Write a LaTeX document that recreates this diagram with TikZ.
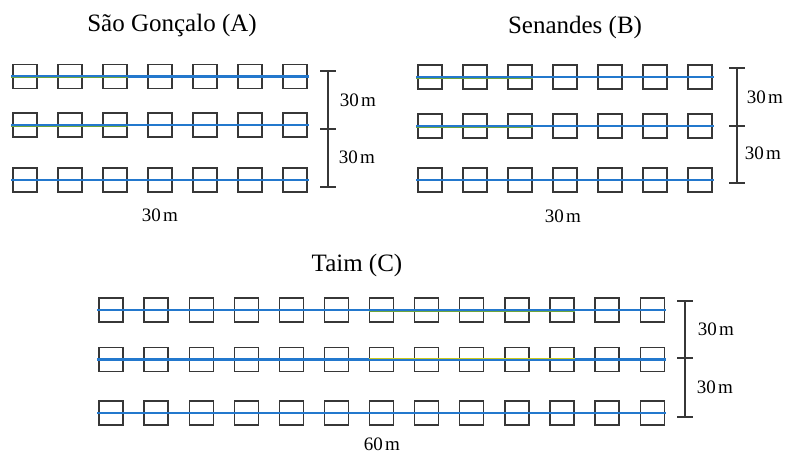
\documentclass[tikz,border=0pt]{standalone}
\usepackage{fontspec}
\setmainfont{Liberation Serif}
\definecolor{rowblue}{RGB}{35,120,205}
\definecolor{rowgreen}{RGB}{110,165,60}
\definecolor{rowyellow}{RGB}{200,200,30}
\definecolor{boxgray}{RGB}{55,55,55}
\tikzset{
  plot/.style={draw=boxgray, line width=1.3pt, minimum width=24pt, minimum height=24pt, inner sep=0pt},
  rowline/.style={draw=rowblue, line width=2.8pt},
  greenline/.style={draw=rowgreen, line width=0.9pt},
  yellowline/.style={draw=rowyellow, line width=0.9pt},
  bar/.style={draw=boxgray, line width=1.2pt},
  title/.style={font=\fontsize{25}{30}\selectfont, inner sep=0pt},
  dim/.style={font=\fontsize{19}{22}\selectfont, inner sep=0pt}
}
\newcommand{\mm}{30\hspace{0.12em}m}
\begin{document}
\begin{tikzpicture}[x=1pt,y=-1pt]
\useasboundingbox (0,0) rectangle (788,454);
% ---------- Panel A ----------
\node[title] (tA) at (172,25) {São Gonçalo (A)};
\foreach \r/\y in {1/76.5,2/125,3/180}{
  \foreach \c in {1,...,7}{
    \node[plot] (A-\r-\c) at ({25+45*(\c-1)},\y) {};
  }
}
\foreach \r in {1,2,3}{ \draw[rowline] ([xshift=-1pt]A-\r-1.west) -- ([xshift=1pt]A-\r-7.east); }
\foreach \r in {1,2}{ \draw[greenline] ([xshift=-1pt,yshift=-1.4pt]A-\r-1.west) -- ([yshift=-1.4pt]A-\r-3.east); }
\coordinate (At) at (328,71); \coordinate (Am) at (328,129); \coordinate (Ab) at (328,187);
\draw[bar] (At) -- (Ab);
\foreach \p in {At,Am,Ab}{ \draw[bar] ([xshift=-8pt]\p) -- ([xshift=8pt]\p); }
\node[dim] (A1) at (358,100) {\mm};
\node[dim] (A2) at (357,157) {\mm};
\node[dim] (A3) at (160,215) {\mm};
% ---------- Panel B ----------
\node[title] (tB) at (575,27) {Senandes (B)};
\foreach \r/\y in {1/77,2/126,3/180}{
  \foreach \c in {1,...,7}{
    \node[plot] (B-\r-\c) at ({430+45*(\c-1)},\y) {};
  }
}
\foreach \r in {1,2,3}{ \draw[rowline] ([xshift=-1pt]B-\r-1.west) -- ([xshift=1pt]B-\r-7.east); }
\foreach \r in {1,2}{ \draw[greenline] ([xshift=-1pt,yshift=-1.4pt]B-\r-1.west) -- ([yshift=-1.4pt]B-\r-3.east); }
\coordinate (Bt) at (737,68); \coordinate (Bm) at (737,126); \coordinate (Bb) at (737,183);
\draw[bar] (Bt) -- (Bb);
\foreach \p in {Bt,Bm,Bb}{ \draw[bar] ([xshift=-8pt]\p) -- ([xshift=8pt]\p); }
\node[dim] (B1) at (765,97) {\mm};
\node[dim] (B2) at (763,153) {\mm};
\node[dim] (B3) at (563,216) {\mm};
% ---------- Panel C ----------
\node[title] (tC) at (357,265) {Taim (C)};
\foreach \r/\y in {1/310,2/359.5,3/413}{
  \foreach \c in {1,...,13}{
    \node[plot] (C-\r-\c) at ({111+45.1*(\c-1)},\y) {};
  }
}
\foreach \r in {1,2,3}{ \draw[rowline] ([xshift=-1pt]C-\r-1.west) -- ([xshift=1pt]C-\r-13.east); }
\draw[greenline] ([yshift=-1.4pt]C-1-7.west) -- ([yshift=-1.4pt]C-1-11.east);
\draw[yellowline] ([yshift=1.5pt]C-2-7.west) -- ([yshift=1.5pt]C-2-11.east);
\coordinate (Ct) at (685,301); \coordinate (Cm) at (685,358); \coordinate (Cb) at (685,417);
\draw[bar] (Ct) -- (Cb);
\foreach \p in {Ct,Cm,Cb}{ \draw[bar] ([xshift=-8pt]\p) -- ([xshift=8pt]\p); }
\node[dim] (C1) at (716,329) {\mm};
\node[dim] (C2) at (715,387) {\mm};
\node[dim] (C3) at (382,444.5) {60\hspace{0.12em}m};
\end{tikzpicture}
\end{document}
